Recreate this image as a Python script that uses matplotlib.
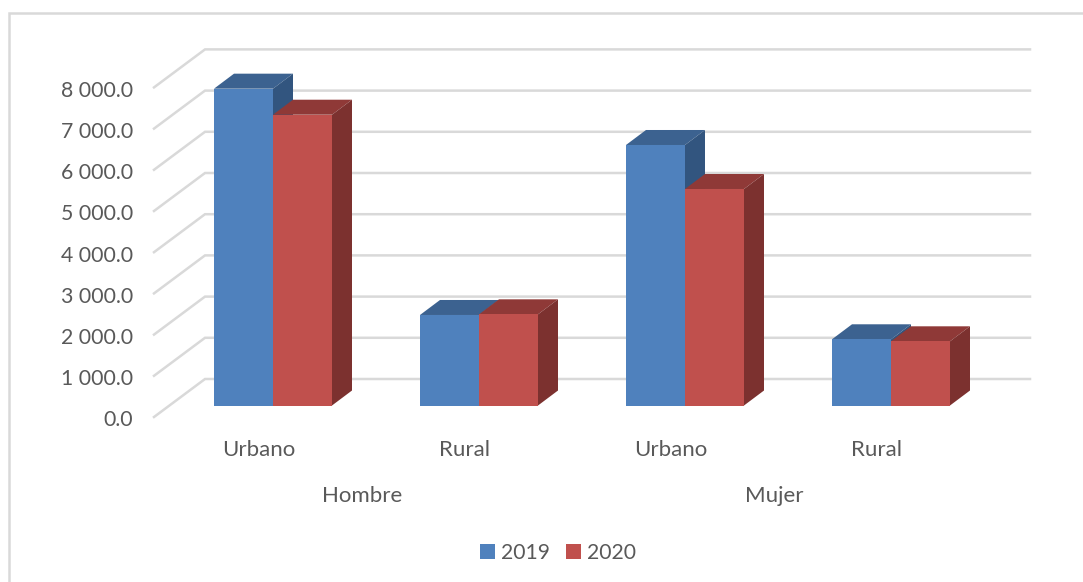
import matplotlib
matplotlib.use('Agg')
import matplotlib.pyplot as plt
from matplotlib.patches import Polygon, Rectangle

plt.rcParams['font.family'] = ['Lato', 'DejaVu Sans']

grupos = ['Hombre', 'Mujer']
zonas = ['Urbano', 'Rural', 'Urbano', 'Rural']
v2019 = [7690, 2197, 6323, 1607]
v2020 = [7058, 2213, 5255, 1558]
ticks = [0, 1000, 2000, 3000, 4000, 5000, 6000, 7000, 8000]
tick_labels = ['0.0', '1 000.0', '2 000.0', '3 000.0', '4 000.0',
               '5 000.0', '6 000.0', '7 000.0', '8 000.0']

W, H = 1083, 582
PX_CAT = 206.0  # px por categoria
PX_VAL = 41.2 / 1000  # px por unidad
X0, Y0 = 273.0, 405.5  # centro de la primera categoria y base de las barras

# profundidad de las barras
DX = 20 / PX_CAT
DY = 15 / PX_VAL
ANCHO = 59 / PX_CAT
GRIS = '#595959'


def caja(ax, x, ancho, valor, frente, tapa, lado, z):
    ax.add_patch(Rectangle((x, 0), ancho, valor, fc=frente, ec='none', zorder=z + 0.2))
    ax.add_patch(Polygon([(x, valor), (x + ancho, valor), (x + ancho + DX, valor + DY), (x + DX, valor + DY)],
                         fc=tapa, ec='none', zorder=z))
    ax.add_patch(Polygon([(x + ancho, 0), (x + ancho + DX, DY), (x + ancho + DX, valor + DY), (x + ancho, valor)],
                         fc=lado, ec='none', zorder=z + 0.1))


fig = plt.figure(figsize=(W / 100, H / 100), dpi=100)
ax = fig.add_axes([0, 0, 1, 1])
ax.set_xlim(-X0 / PX_CAT, (W - X0) / PX_CAT)
ax.set_ylim((Y0 - H) / PX_VAL, Y0 / PX_VAL)
ax.axis('off')

# marco del grafico (abierto a la derecha y abajo)
ax.plot([9 / W, 9 / W, 1], [0, 1 - 13 / H, 1 - 13 / H], transform=ax.transAxes,
        color='#d9d9d9', lw=1.8, zorder=0, solid_joinstyle='miter')

# lineas de la pared y del suelo
fondo_y = 26.5 / PX_VAL
izq_y = -11.5 / PX_VAL
for t, lab in zip(ticks, tick_labels):
    ax.plot([-119 / PX_CAT, -68 / PX_CAT, 757 / PX_CAT], [t + izq_y, t + fondo_y, t + fondo_y],
            color='#d9d9d9', lw=1.8, zorder=1, solid_joinstyle='miter')
    ax.text(-140 / PX_CAT, t + izq_y - 3.5 / PX_VAL, lab, ha='right', va='center', fontsize=15.3, color=GRIS)

for i in range(len(zonas)):
    caja(ax, i - ANCHO, ANCHO, v2019[i], '#4f81bd', '#3c6290', '#32557f', 2 + i)
    caja(ax, i, ANCHO, v2020[i], '#c0504d', '#8f3937', '#7c312f', 2.5 + i)
    ax.text(i - 14.5 / PX_CAT, -44 / PX_VAL, zonas[i], ha='center', va='center', fontsize=16, color=GRIS)

# etiquetas de grupo: centradas bajo cada par de categorias
for i, g in enumerate(grupos):
    ax.text(2 * i + 0.5 - 14 / PX_CAT, -90 / PX_VAL, g, ha='center', va='center', fontsize=16, color=GRIS)

# leyenda
h = [Rectangle((0, 0), 1, 1, fc='#4f81bd'), Rectangle((0, 0), 1, 1, fc='#c0504d')]
ax.legend(h, ['2019', '2020'], ncols=2, loc='center', bbox_to_anchor=(558 / W, 1 - 553 / H),
          frameon=False, fontsize=15.2, labelcolor=GRIS, handlelength=0.68, handleheight=0.68,
          handletextpad=0.28, columnspacing=0.8)

fig.savefig('out.png', dpi=100)
